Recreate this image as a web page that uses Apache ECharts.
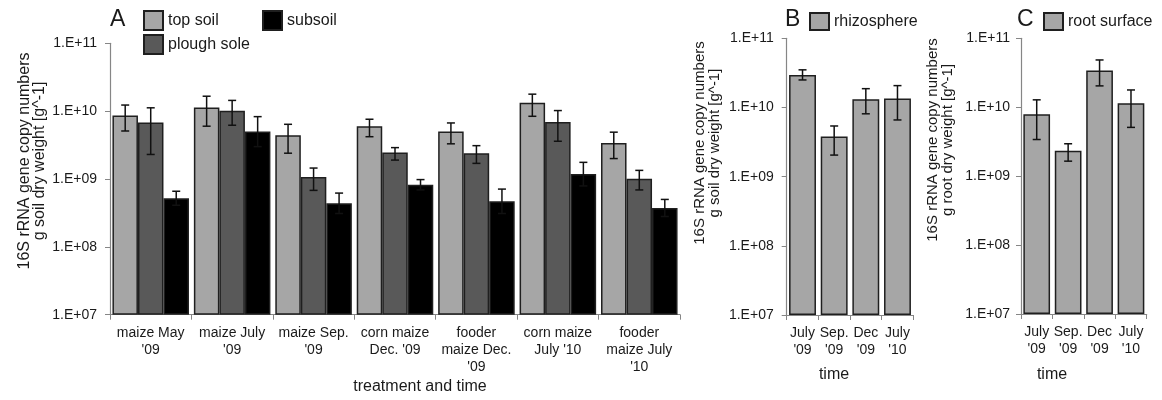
<!DOCTYPE html>
<html>
<head>
<meta charset="utf-8">
<script src="https://cdn.jsdelivr.net/npm/echarts@6/dist/echarts.min.js"></script>
<style>
  html, body { margin: 0; padding: 0; background: #fff; }
  #chart { width: 1162px; height: 400px; }
</style>
</head>
<body>
<div id="chart"></div>
<script>
// Panel A: soil layers per treatment and sampling time
const categoriesA = ["maize May\n'09", "maize July\n'09", "maize Sep.\n'09", "corn maize\nDec. '09",
                     "fooder\nmaize Dec.\n'09", "corn maize\nJuly '10", "fooder\nmaize July\n'10"];
const topSoil      = [8.6e9, 1.13e10, 4.4e9, 6.0e9, 5.0e9, 1.33e10, 3.4e9];
const topSoilLow   = [5.1e9, 6.0e9, 2.4e9, 4.2e9, 3.3e9, 8.4e9, 2.0e9];
const topSoilHigh  = [1.23e10, 1.66e10, 6.4e9, 7.6e9, 6.7e9, 1.78e10, 4.9e9];
const ploughSole     = [6.8e9, 1.01e10, 1.07e9, 2.45e9, 2.4e9, 6.9e9, 1.01e9];
const ploughSoleLow  = [2.3e9, 6.2e9, 6.8e8, 1.9e9, 1.7e9, 3.6e9, 6.9e8];
const ploughSoleHigh = [1.12e10, 1.44e10, 1.45e9, 2.9e9, 3.1e9, 1.02e10, 1.34e9];
const subsoil     = [5.2e8, 5.0e9, 4.4e8, 8.2e8, 4.7e8, 1.18e9, 3.75e8];
const subsoilLow  = [4.1e8, 3.0e9, 3.1e8, 6.9e8, 3.1e8, 7.9e8, 2.8e8];
const subsoilHigh = [6.6e8, 8.3e9, 6.2e8, 9.8e8, 7.1e8, 1.76e9, 5.0e8];

// Panels B and C: sampling times
const categoriesTime = ["July\n'09", "Sep.\n'09", "Dec\n'09", "July\n'10"];
const rhizosphere     = [2.95e10, 3.8e9, 1.32e10, 1.35e10];
const rhizosphereLow  = [2.5e10, 2.05e9, 8.1e9, 6.6e9];
const rhizosphereHigh = [3.5e10, 5.4e9, 1.87e10, 2.07e10];
const rootSurface     = [7.9e9, 2.33e9, 3.4e10, 1.14e10];
const rootSurfaceLow  = [3.4e9, 1.65e9, 2.04e10, 5.1e9];
const rootSurfaceHigh = [1.28e10, 2.95e9, 4.85e10, 1.78e10];

// Log-axis tick labels, 1.E+07 ... 1.E+11
const yTickLabels = { 7: '1.E+07', 8: '1.E+08', 9: '1.E+09', 10: '1.E+10', 11: '1.E+11' };

const FONT = '"Liberation Sans", Arial, sans-serif';
const AXIS_GREY = '#868686';
const EDGE = '#1f1f1f';

const chart = echarts.init(document.getElementById('chart'), null, { renderer: 'canvas' });

function valueAxis(gridIndex, labelMargin) {
  return {
    type: 'log', logBase: 10, gridIndex: gridIndex,
    min: 1e7, max: 1e11, startValue: 1e7,
    axisLine: { show: true, lineStyle: { color: AXIS_GREY, width: 1.2 } },
    axisTick: { show: true, length: 5, lineStyle: { color: AXIS_GREY } },
    splitLine: { show: false },
    axisLabel: {
      margin: labelMargin, fontSize: 14, fontFamily: FONT, color: '#1a1a1a',
      formatter: function (v) { return yTickLabels[Math.round(Math.log10(v))] || ''; }
    }
  };
}

function categoryAxis(gridIndex, data) {
  return {
    type: 'category', gridIndex: gridIndex, data: data,
    axisLine: { show: true, lineStyle: { color: AXIS_GREY, width: 1.2 } },
    axisTick: { show: true, length: 5, lineStyle: { color: AXIS_GREY } },
    axisLabel: {
      interval: 0, margin: 10, fontSize: 14, lineHeight: 17,
      fontFamily: FONT, color: '#1a1a1a', align: 'center'
    }
  };
}

function barSeries(name, data, color, xi, gap) {
  return {
    type: 'bar', name: name, data: data,
    xAxisIndex: xi, yAxisIndex: xi,
    barGap: 0, barCategoryGap: gap, clip: true,
    itemStyle: { color: color, borderColor: EDGE, borderWidth: 1.5 },
    z: 2
  };
}

// Whisker drawn at the centre of the matching bar inside its category group
function errorSeries(low, high, slot, slots, gapRatio, xi) {
  const data = low.map(function (l, i) { return [i, l, high[i]]; });
  return {
    type: 'custom', xAxisIndex: xi, yAxisIndex: xi, z: 3,
    silent: true, data: data,
    renderItem: function (params, api) {
      const i = api.value(0);
      const lo = api.coord([i, api.value(1)]);
      const hi = api.coord([i, api.value(2)]);
      const band = api.size([1, 0], [i, 1e9])[0];
      const group = band * (1 - gapRatio);
      const bw = group / slots;
      const x = lo[0] - group / 2 + bw * (slot + 0.5);
      const cap = 4;
      const style = { stroke: '#111', lineWidth: 1.5 };
      return {
        type: 'group',
        children: [
          { type: 'line', shape: { x1: x, y1: hi[1], x2: x, y2: lo[1] }, style: style },
          { type: 'line', shape: { x1: x - cap, y1: hi[1], x2: x + cap, y2: hi[1] }, style: style },
          { type: 'line', shape: { x1: x - cap, y1: lo[1], x2: x + cap, y2: lo[1] }, style: style }
        ]
      };
    }
  };
}

function verticalTitle(x, y, text, size) {
  return {
    type: 'text', x: x, y: y, rotation: Math.PI / 2,
    style: {
      text: text, fill: '#1a1a1a', font: size + 'px ' + FONT,
      align: 'center', verticalAlign: 'middle', lineHeight: 15
    }
  };
}

function plainText(x, y, text) {
  return {
    type: 'text', x: x, y: y,
    style: { text: text, fill: '#1a1a1a', font: '16px ' + FONT, align: 'center', verticalAlign: 'middle' }
  };
}

const GAP_A = 0.06, GAP_BC = 0.15;

const legendText = { fontSize: 16, fontFamily: FONT, color: '#1a1a1a' };

const option = {
  animation: false,
  backgroundColor: '#ffffff',
  title: [
    { text: 'A', left: 110, top: 8, padding: 0, textStyle: { fontSize: 23, fontWeight: 'normal', fontFamily: FONT, color: '#1a1a1a' } },
    { text: 'B', left: 785, top: 8, padding: 0, textStyle: { fontSize: 23, fontWeight: 'normal', fontFamily: FONT, color: '#1a1a1a' } },
    { text: 'C', left: 1017, top: 8, padding: 0, textStyle: { fontSize: 23, fontWeight: 'normal', fontFamily: FONT, color: '#1a1a1a' } }
  ],
  legend: [
    { data: ['top soil', 'plough sole'], orient: 'vertical', left: 143, top: 10, padding: 0,
      itemWidth: 19, itemHeight: 19, itemGap: 3, icon: 'rect', textStyle: legendText, selectedMode: false },
    { data: ['subsoil'], orient: 'vertical', left: 262, top: 10, padding: 0,
      itemWidth: 19, itemHeight: 19, icon: 'rect', textStyle: legendText, selectedMode: false },
    { data: ['rhizosphere'], left: 809, top: 12, padding: 0,
      itemWidth: 19, itemHeight: 17, icon: 'rect', textStyle: legendText, selectedMode: false },
    { data: ['root surface'], left: 1043, top: 12, padding: 0,
      itemWidth: 19, itemHeight: 17, icon: 'rect', textStyle: legendText, selectedMode: false }
  ],
  grid: [
    { left: 110, top: 43.3, width: 570, height: 271.4 },
    { left: 786.7, top: 38.3, width: 126.6, height: 276.7 },
    { left: 1021, top: 38.3, width: 125.7, height: 275.7 }
  ],
  xAxis: [
    categoryAxis(0, categoriesA),
    categoryAxis(1, categoriesTime),
    categoryAxis(2, categoriesTime)
  ],
  yAxis: [
    valueAxis(0, 13),
    valueAxis(1, 13),
    valueAxis(2, 11)
  ],
  graphic: [
    verticalTitle(32, 161, '16S rRNA gene copy numbers\ng soil dry weight [g^-1]', 16),
    verticalTitle(707, 143, '16S rRNA gene copy numbers\ng soil dry weight [g^-1]', 15),
    verticalTitle(940, 140, '16S rRNA gene copy numbers\ng root dry weight [g^-1]', 15),
    plainText(420, 387, 'treatment and time'),
    plainText(834, 375, 'time'),
    plainText(1052, 375, 'time')
  ],
  series: [
    barSeries('top soil', topSoil, '#a6a6a6', 0, (GAP_A * 100) + '%'),
    barSeries('plough sole', ploughSole, '#595959', 0, (GAP_A * 100) + '%'),
    barSeries('subsoil', subsoil, '#000000', 0, (GAP_A * 100) + '%'),
    errorSeries(topSoilLow, topSoilHigh, 0, 3, GAP_A, 0),
    errorSeries(ploughSoleLow, ploughSoleHigh, 1, 3, GAP_A, 0),
    errorSeries(subsoilLow, subsoilHigh, 2, 3, GAP_A, 0),
    barSeries('rhizosphere', rhizosphere, '#a6a6a6', 1, (GAP_BC * 100) + '%'),
    errorSeries(rhizosphereLow, rhizosphereHigh, 0, 1, GAP_BC, 1),
    barSeries('root surface', rootSurface, '#a6a6a6', 2, (GAP_BC * 100) + '%'),
    errorSeries(rootSurfaceLow, rootSurfaceHigh, 0, 1, GAP_BC, 2)
  ]
};

chart.setOption(option);
</script>
</body>
</html>
